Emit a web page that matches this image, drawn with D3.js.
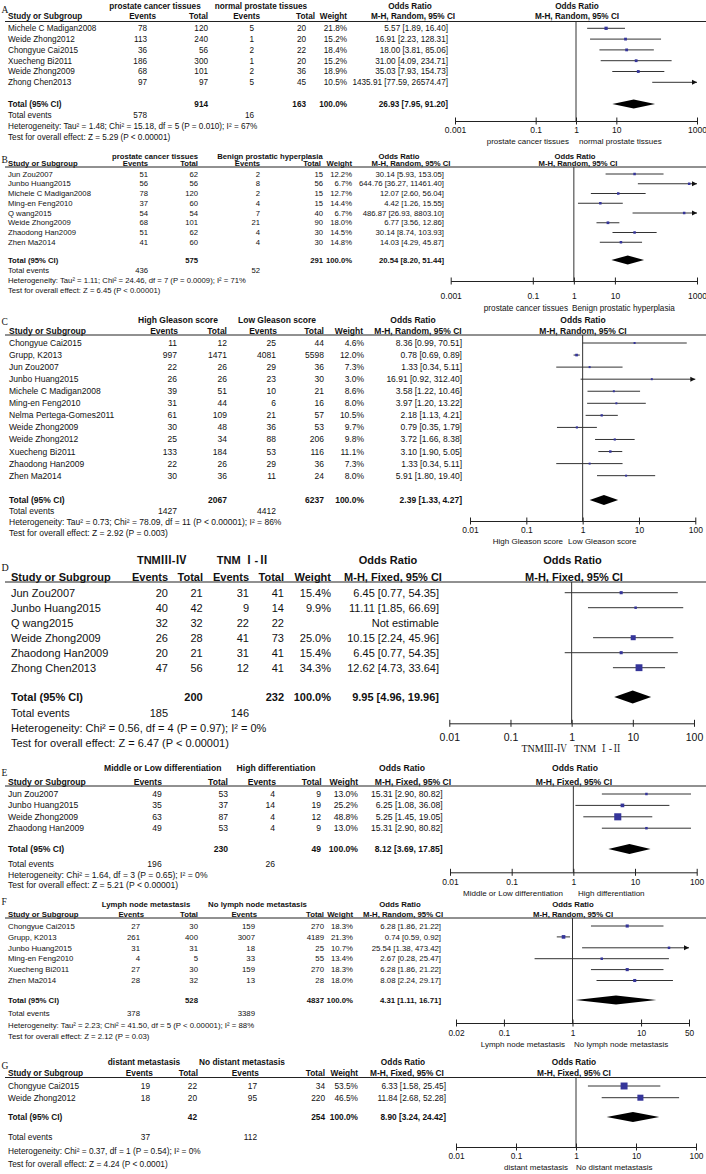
<!DOCTYPE html>
<html><head><meta charset="utf-8">
<script src="https://cdn.jsdelivr.net/npm/d3@7"></script>
<style>
body{margin:0;background:#fff}
svg text{font-family:"Liberation Sans",Arial,"Noto Sans CJK SC",sans-serif;fill:#111}
</style>
</head><body>
<svg id="c" width="706" height="1174"></svg>
<script>
// ---------------- DATA ----------------
// Panel A
const aGroups = ["prostate cancer tissues", "normal prostate tissues"];
const aStudy = ["Michele C Madigan2008","Weide Zhong2012","Chongyue Cai2015","Xuecheng Bi2011","Weide Zhong2009","Zhong Chen2013"];
const aEv1 = [78,113,36,186,68,97];
const aTot1 = [120,240,56,300,101,97];
const aEv2 = [5,1,2,1,2,5];
const aTot2 = [20,20,22,20,36,45];
const aWeight = [21.8,15.2,18.4,15.2,18.9,10.5];
const aOR = [5.57,16.91,18.00,31.00,35.03,1435.91];
const aLo = [1.89,2.23,3.81,4.09,7.93,77.59];
const aHi = [16.40,128.31,85.06,234.71,154.73,26574.47];
const aTotal = [914,163,26.93,7.95,91.20];
const aEvents = [578,16];
const aHet = "Heterogeneity: Tau² = 1.48; Chi² = 15.18, df = 5 (P = 0.010); I² = 67%";
const aTest = "Test for overall effect: Z = 5.29 (P < 0.00001)";
const aTicks = [0.001,0.1,1,10,1000];

// Panel B
const bGroups = ["prostate cancer tissues", "Benign prostatic hyperplasia"];
const bStudy = ["Jun Zou2007","Junbo Huang2015","Michele C Madigan2008","Ming-en Feng2010","Q wang2015","Weide Zhong2009","Zhaodong Han2009","Zhen Ma2014"];
const bEv1 = [51,56,78,37,54,68,51,41];
const bTot1 = [62,56,120,60,54,101,62,60];
const bEv2 = [2,8,2,4,7,21,4,4];
const bTot2 = [15,56,15,15,40,90,30,30];
const bWeight = [12.2,6.7,12.7,14.4,6.7,18.0,14.5,14.8];
const bOR = [30.14,644.76,12.07,4.42,486.87,6.77,30.14,14.03];
const bLo = [5.93,36.27,2.60,1.26,26.93,3.56,8.74,4.29];
const bHi = [153.05,11461.40,56.04,15.55,8803.10,12.86,103.93,45.87];
const bTotal = [575,291,20.54,8.20,51.44];
const bEvents = [436,52];
const bHet = "Heterogeneity: Tau² = 1.11; Chi² = 24.46, df = 7 (P = 0.0009); I² = 71%";
const bTest = "Test for overall effect: Z = 6.45 (P < 0.00001)";
const bTicks = [0.001,0.1,1,10,1000];

// Panel C
const cGroups = ["High Gleason score", "Low Gleason score"];
const cStudy = ["Chongyue Cai2015","Grupp, K2013","Jun Zou2007","Junbo Huang2015","Michele C Madigan2008","Ming-en Feng2010","Nelma Pertega-Gomes2011","Weide Zhong2009","Weide Zhong2012","Xuecheng Bi2011","Zhaodong Han2009","Zhen Ma2014"];
const cEv1 = [11,997,22,26,39,31,61,30,25,133,22,30];
const cTot1 = [12,1471,26,26,51,44,109,48,34,184,26,36];
const cEv2 = [25,4081,29,23,10,6,21,36,88,53,29,11];
const cTot2 = [44,5598,36,30,21,16,57,53,206,116,36,24];
const cWeight = [4.6,12.0,7.3,3.0,8.6,8.0,10.5,9.7,9.8,11.1,7.3,8.0];
const cOR = [8.36,0.78,1.33,16.91,3.58,3.97,2.18,0.79,3.72,3.10,1.33,5.91];
const cLo = [0.99,0.69,0.34,0.92,1.22,1.20,1.13,0.35,1.66,1.90,0.34,1.80];
const cHi = [70.51,0.89,5.11,312.40,10.46,13.22,4.21,1.79,8.38,5.05,5.11,19.40];
const cTotal = [2067,6237,2.39,1.33,4.27];
const cEvents = [1427,4412];
const cHet = "Heterogeneity: Tau² = 0.73; Chi² = 78.09, df = 11 (P < 0.00001); I² = 86%";
const cTest = "Test for overall effect: Z = 2.92 (P = 0.003)";
const cTicks = [0.01,0.1,1,10,100];

// Panel D
const dGroups = ["TNMⅢ-Ⅳ", "TNM Ⅰ-Ⅱ"];
const dStudy = ["Jun Zou2007","Junbo Huang2015","Q wang2015","Weide Zhong2009","Zhaodong Han2009","Zhong Chen2013"];
const dEv1 = [20,40,32,26,20,47];
const dTot1 = [21,42,32,28,21,56];
const dEv2 = [31,9,22,41,31,12];
const dTot2 = [41,14,22,73,41,41];
const dWeight = [15.4,9.9,null,25.0,15.4,34.3];
const dOR = [6.45,11.11,null,10.15,6.45,12.62];
const dLo = [0.77,1.85,null,2.24,0.77,4.73];
const dHi = [54.35,66.69,null,45.96,54.35,33.64];
const dTotal = [200,232,9.95,4.96,19.96];
const dEvents = [185,146];
const dHet = "Heterogeneity: Chi² = 0.56, df = 4 (P = 0.97); I² = 0%";
const dTest = "Test for overall effect: Z = 6.47 (P < 0.00001)";
const dTicks = [0.01,0.1,1,10,100];

// Panel E
const eGroups = ["Middle or Low differentiation", "High differentiation"];
const eStudy = ["Jun Zou2007","Junbo Huang2015","Weide Zhong2009","Zhaodong Han2009"];
const eEv1 = [49,35,63,49];
const eTot1 = [53,37,87,53];
const eEv2 = [4,14,4,4];
const eTot2 = [9,19,12,9];
const eWeight = [13.0,25.2,48.8,13.0];
const eOR = [15.31,6.25,5.25,15.31];
const eLo = [2.90,1.08,1.45,2.90];
const eHi = [80.82,36.08,19.05,80.82];
const eTotal = [230,49,8.12,3.69,17.85];
const eEvents = [196,26];
const eHet = "Heterogeneity: Chi² = 1.64, df = 3 (P = 0.65); I² = 0%";
const eTest = "Test for overall effect: Z = 5.21 (P < 0.00001)";
const eTicks = [0.01,0.1,1,10,100];

// Panel F
const fGroups = ["Lymph node metastasis", "No lymph node metastasis"];
const fStudy = ["Chongyue Cai2015","Grupp, K2013","Junbo Huang2015","Ming-en Feng2010","Xuecheng Bi2011","Zhen Ma2014"];
const fEv1 = [27,261,31,4,27,28];
const fTot1 = [30,400,31,5,30,32];
const fEv2 = [159,3007,18,33,159,13];
const fTot2 = [270,4189,25,55,270,28];
const fWeight = [18.3,21.3,10.7,13.4,18.3,18.0];
const fOR = [6.28,0.74,25.54,2.67,6.28,8.08];
const fLo = [1.86,0.59,1.38,0.28,1.86,2.24];
const fHi = [21.22,0.92,473.42,25.47,21.22,29.17];
const fTotal = [528,4837,4.31,1.11,16.71];
const fEvents = [378,3389];
const fHet = "Heterogeneity: Tau² = 2.23; Chi² = 41.50, df = 5 (P < 0.00001); I² = 88%";
const fTest = "Test for overall effect: Z = 2.12 (P = 0.03)";
const fTicks = [0.02,0.1,1,10,50];

// Panel G
const gGroups = ["distant metastasis", "No distant metastasis"];
const gStudy = ["Chongyue Cai2015","Weide Zhong2012"];
const gEv1 = [19,18];
const gTot1 = [22,20];
const gEv2 = [17,95];
const gTot2 = [34,220];
const gWeight = [53.5,46.5];
const gOR = [6.33,11.84];
const gLo = [1.58,2.68];
const gHi = [25.45,52.28];
const gTotal = [42,254,8.90,3.24,24.42];
const gEvents = [37,112];
const gHet = "Heterogeneity: Chi² = 0.37, df = 1 (P = 0.54); I² = 0%";
const gTest = "Test for overall effect: Z = 4.24 (P < 0.0001)";
const gTicks = [0.01,0.1,1,10,100];

// ---------------- LAYOUT ----------------
const panels = [
 {label:"A", method:"M-H, Random, 95% CI", groups:aGroups, study:aStudy, ev1:aEv1, tot1:aTot1, ev2:aEv2, tot2:aTot2, w:aWeight, or:aOR, lo:aLo, hi:aHi, total:aTotal, events:aEvents, het:aHet, test:aTest, ticks:aTicks, domain:[0.001,1000],
  L:{fs:8.2,labelY:10,groupY:6,g1X:155,g2X:261,orH1X:410,orH2X:577,headY:16.5,hStudyX:8,hEv1X:156,hTot1X:208,hEv2X:260,hTot2X:315,hWX:347,mh1X:413,mh2X:577,lineY:21.5,row0:28.3,rowDy:10.8,vEv1X:147,vTot1X:208,vEv2X:254,vTot2X:306,vWX:347,vORX:448,totalY:104,eventsY:115,hetY:126.5,testY:137,fx0:455,fx1:697,axisY:121,tickY:130.5,axLabY:141.5,axL1X:569,axL2X:579,sqK:0.15,sqMin:2.8,dH:4.5,tickFs:8.5,axFs:8}},
 {label:"B", method:"M-H, Random, 95% CI", groups:bGroups, study:bStudy, ev1:bEv1, tot1:bTot1, ev2:bEv2, tot2:bTot2, w:bWeight, or:bOR, lo:bLo, hi:bHi, total:bTotal, events:bEvents, het:bHet, test:bTest, ticks:bTicks, domain:[0.001,1000],
  L:{fs:7.7,labelY:160,groupY:156,g1X:155,g2X:270,orH1X:399,orH2X:575,headY:163,hStudyX:8,hEv1X:148,hTot1X:198,hEv2X:260,hTot2X:321,hWX:352,mh1X:411,mh2X:578,lineY:167,row0:174,rowDy:9.75,vEv1X:148,vTot1X:198,vEv2X:260,vTot2X:323,vWX:352,vORX:444,totalY:260,eventsY:270.7,hetY:280.3,testY:290,fx0:450.7,fx1:697,axisY:281,tickY:296,axLabY:308.5,axL1X:568,axL2X:572,sqK:0.15,sqMin:2.5,dH:4.5,tickFs:8.5,axFs:8.2}},
 {label:"C", method:"M-H, Random, 95% CI", groups:cGroups, study:cStudy, ev1:cEv1, tot1:cTot1, ev2:cEv2, tot2:cTot2, w:cWeight, or:cOR, lo:cLo, hi:cHi, total:cTotal, events:cEvents, het:cHet, test:cTest, ticks:cTicks, domain:[0.01,100],
  L:{fs:8.5,labelY:322,groupY:320,g1X:178,g2X:277,orH1X:413,orH2X:583,headY:331,hStudyX:9,hEv1X:178,hTot1X:227,hEv2X:277,hTot2X:324,hWX:363,mh1X:418,mh2X:583,lineY:335,row0:343,rowDy:12.06,vEv1X:177,vTot1X:227,vEv2X:276,vTot2X:324,vWX:364,vORX:462,totalY:500,eventsY:511.3,hetY:522.3,testY:533,fx0:470,fx1:695.3,axisY:521,tickY:530.5,axLabY:541,axL1X:563,axL2X:568,sqK:0.22,sqMin:2,dH:5,tickFs:8.5,axFs:8}},
 {label:"D", method:"M-H, Fixed, 95% CI", groups:dGroups, study:dStudy, ev1:dEv1, tot1:dTot1, ev2:dEv2, tot2:dTot2, w:dWeight, or:dOR, lo:dLo, hi:dHi, total:dTotal, events:dEvents, het:dHet, test:dTest, ticks:dTicks, domain:[0.01,100], serifAxis:true,
  L:{fs:11,labelY:567,groupY:560,g1X:161.7,g2X:243,orH1X:388,orH2X:572.5,headY:577,hStudyX:11,hEv1X:168,hTot1X:203,hEv2X:249,hTot2X:284,hWX:331,mh1X:393,mh2X:574,lineY:582,row0:592.7,rowDy:15,vEv1X:168,vTot1X:202.7,vEv2X:249,vTot2X:284,vWX:331,vORX:439,totalY:697,eventsY:712.7,hetY:727.7,testY:742.7,fx0:449.3,fx1:694,axisY:723.3,tickY:737,axLabY:748.3,axL1X:567,axL2X:574,sqK:0.2,sqMin:2.5,dH:6.5,tickFs:10.5,axFs:10}},
 {label:"E", method:"M-H, Fixed, 95% CI", groups:eGroups, study:eStudy, ev1:eEv1, tot1:eTot1, ev2:eEv2, tot2:eTot2, w:eWeight, or:eOR, lo:eLo, hi:eHi, total:eTotal, events:eEvents, het:eHet, test:eTest, ticks:eTicks, domain:[0.01,100],
  L:{fs:8.6,labelY:773,groupY:768,g1X:162.7,g2X:276,orH1X:402,orH2X:575,headY:781.7,hStudyX:8,hEv1X:162,hTot1X:228,hEv2X:276,hTot2X:321.7,hWX:358,mh1X:413,mh2X:574,lineY:786,row0:794,rowDy:11.4,vEv1X:161.7,vTot1X:228,vEv2X:275,vTot2X:321,vWX:358,vORX:442.7,totalY:849,eventsY:864,hetY:874.5,testY:885,fx0:450,fx1:696.7,axisY:872.3,tickY:882.5,axLabY:892.7,axL1X:563,axL2X:578,sqK:0.145,sqMin:2.5,dH:5,tickFs:8.5,axFs:8}},
 {label:"F", method:"M-H, Random, 95% CI", groups:fGroups, study:fStudy, ev1:fEv1, tot1:fTot1, ev2:fEv2, tot2:fTot2, w:fWeight, or:fOR, lo:fLo, hi:fHi, total:fTotal, events:fEvents, het:fHet, test:fTest, ticks:fTicks, domain:[0.02,50],
  L:{fs:7.8,labelY:902,groupY:904,g1X:146,g2X:257.5,orH1X:400,orH2X:573,headY:914,hStudyX:8,hEv1X:144,hTot1X:198,hEv2X:257,hTot2X:324,hWX:353,mh1X:403,mh2X:573,lineY:918,row0:926,rowDy:10.9,vEv1X:140,vTot1X:198,vEv2X:255,vTot2X:324,vWX:353,vORX:441,totalY:1000,eventsY:1013,hetY:1025,testY:1036,fx0:456,fx1:689,axisY:1023,tickY:1033,axLabY:1044,axL1X:565,axL2X:574,sqK:0.17,sqMin:2.5,dH:4.5,tickFs:8.3,axFs:8}},
 {label:"G", method:"M-H, Fixed, 95% CI", groups:gGroups, study:gStudy, ev1:gEv1, tot1:gTot1, ev2:gEv2, tot2:gTot2, w:gWeight, or:gOR, lo:gLo, hi:gHi, total:gTotal, events:gEvents, het:gHet, test:gTest, ticks:gTicks, domain:[0.01,100],
  L:{fs:8.3,labelY:1066,groupY:1062,g1X:144,g2X:242,orH1X:403,orH2X:574,headY:1073.5,hStudyX:8,hEv1X:153,hTot1X:198,hEv2X:259,hTot2X:325,hWX:358,mh1X:407,mh2X:574,lineY:1077.5,row0:1086,rowDy:11.7,vEv1X:150,vTot1X:197,vEv2X:257,vTot2X:325,vWX:358,vORX:446,totalY:1117,eventsY:1137.5,hetY:1151.5,testY:1164,fx0:456,fx1:696,axisY:1147,tickY:1156.5,axLabY:1167,axL1X:568,axL2X:576,sqK:0.13,sqMin:2.5,dH:5,tickFs:8.3,axFs:8}}
];

const svg = d3.select("#c");
const SANS = '"Liberation Sans",Arial,"Noto Sans CJK SC",sans-serif';
const SERIF = '"Liberation Serif","Times New Roman","Noto Serif CJK SC","Noto Sans CJK SC",serif';
const fmt2 = v => v.toFixed(2);
const orText = (o,l,h) => `${fmt2(o)} [${fmt2(l)}, ${fmt2(h)}]`;

function drawPanel(p){
  const L = p.L;
  const g = svg.append("g");
  const txt = (x,y,s,anchor,o={}) => g.append("text")
      .attr("x",x).attr("y",y).attr("dy","0.35em")
      .attr("text-anchor",anchor||"start")
      .attr("font-size",o.fs||L.fs)
      .attr("font-weight",o.bold?"bold":null)
      .style("font-family",o.ff||SANS)
      .text(s);

  // panel letter
  txt(1.5,L.labelY,p.label,"start",{ff:SERIF,fs:L.fs>10?10:9.5});
  // group headers
  txt(L.g1X,L.groupY,p.groups[0],"middle",{bold:true});
  txt(L.g2X,L.groupY,p.groups[1],"middle",{bold:true});
  txt(L.orH1X,L.groupY,"Odds Ratio","middle",{bold:true});
  txt(L.orH2X,L.groupY,"Odds Ratio","middle",{bold:true});
  // column headers
  txt(L.hStudyX,L.headY,"Study or Subgroup","start",{bold:true});
  txt(L.hEv1X,L.headY,"Events","end",{bold:true});
  txt(L.hTot1X,L.headY,"Total","end",{bold:true});
  txt(L.hEv2X,L.headY,"Events","end",{bold:true});
  txt(L.hTot2X,L.headY,"Total","end",{bold:true});
  txt(L.hWX,L.headY,"Weight","end",{bold:true});
  txt(L.mh1X,L.headY,p.method,"middle",{bold:true});
  txt(L.mh2X,L.headY,p.method,"middle",{bold:true});
  g.append("line").attr("x1",5).attr("x2",706).attr("y1",L.lineY).attr("y2",L.lineY)
    .attr("stroke","#222").attr("stroke-width",1);

  const x = d3.scaleLog().domain(p.domain).range([L.fx0,L.fx1]);
  const y = d3.scaleLinear().domain([0,1]).range([L.row0,L.row0+L.rowDy]);
  const [dmin,dmax] = p.domain;

  // null line
  g.append("line").attr("x1",x(1)).attr("x2",x(1)).attr("y1",L.lineY).attr("y2",L.axisY)
    .attr("stroke","#333").attr("stroke-width",1);

  p.study.forEach((s,i)=>{
    const yy = y(i);
    txt(L.hStudyX,yy,s,"start");
    txt(L.vEv1X,yy,p.ev1[i],"end");
    txt(L.vTot1X,yy,p.tot1[i],"end");
    txt(L.vEv2X,yy,p.ev2[i],"end");
    txt(L.vTot2X,yy,p.tot2[i],"end");
    if(p.or[i]==null){
      txt(L.vORX,yy,"Not estimable","end");
      return;
    }
    txt(L.vWX,yy,p.w[i].toFixed(1)+"%","end");
    txt(L.vORX,yy,orText(p.or[i],p.lo[i],p.hi[i]),"end");
    const lo = Math.max(p.lo[i],dmin), hi = Math.min(p.hi[i],dmax);
    g.append("line").attr("x1",x(lo)).attr("x2",x(hi)).attr("y1",yy).attr("y2",yy)
      .attr("stroke","#333").attr("stroke-width",1);
    if(p.hi[i]>dmax){
      const xe = x(dmax);
      g.append("path").attr("d",`M${xe},${yy}L${xe-5},${yy-2.5}L${xe-5},${yy+2.5}Z`).attr("fill","#111");
    }
    if(p.lo[i]<dmin){
      const xs = x(dmin);
      g.append("path").attr("d",`M${xs},${yy}L${xs+5},${yy-2.5}L${xs+5},${yy+2.5}Z`).attr("fill","#111");
    }
    if(p.or[i]>=dmin && p.or[i]<=dmax){
      const sz = Math.max(L.sqMin,L.sqK*p.w[i]);
      g.append("rect").attr("x",x(p.or[i])-sz/2).attr("y",yy-sz/2)
        .attr("width",sz).attr("height",sz).attr("fill","#35359a");
    }
  });

  // total row
  const t = p.total;
  txt(L.hStudyX,L.totalY,"Total (95% CI)","start",{bold:true});
  txt(L.vTot1X,L.totalY,t[0],"end",{bold:true});
  txt(L.vTot2X,L.totalY,t[1],"end",{bold:true});
  txt(L.vWX,L.totalY,"100.0%","end",{bold:true});
  txt(L.vORX,L.totalY,orText(t[2],t[3],t[4]),"end",{bold:true});
  g.append("path")
    .attr("d",`M${x(t[3])},${L.totalY}L${x(t[2])},${L.totalY-L.dH}L${x(t[4])},${L.totalY}L${x(t[2])},${L.totalY+L.dH}Z`)
    .attr("fill","#000");
  txt(L.hStudyX,L.eventsY,"Total events","start");
  txt(L.vEv1X,L.eventsY,p.events[0],"end");
  txt(L.vEv2X,L.eventsY,p.events[1],"end");
  txt(L.hStudyX,L.hetY,p.het,"start");
  txt(L.hStudyX,L.testY,p.test,"start");

  // axis
  const axis = d3.axisBottom(x).tickValues(p.ticks).tickFormat(d=>String(d)).tickSizeOuter(0).tickSizeInner(3);
  const ag = g.append("g").attr("transform",`translate(0,${L.axisY})`).call(axis)
    .attr("font-size",null).attr("font-family",null);
  ag.select(".domain").attr("stroke","#222");
  ag.selectAll(".tick line").attr("y1",-3.5).attr("y2",3.5).attr("stroke","#222");
  ag.selectAll(".tick text").attr("y",L.tickY-L.axisY).attr("dy","0.35em")
    .attr("font-size",L.tickFs).style("font-family",SANS).attr("fill","#111");
  const axFf = p.serifAxis ? SERIF : SANS;
  txt(L.axL1X,L.axLabY,p.groups[0],"end",{fs:L.axFs,ff:axFf});
  txt(L.axL2X,L.axLabY,p.groups[1],"start",{fs:L.axFs,ff:axFf});
}

panels.forEach(drawPanel);
</script>
</body></html>
